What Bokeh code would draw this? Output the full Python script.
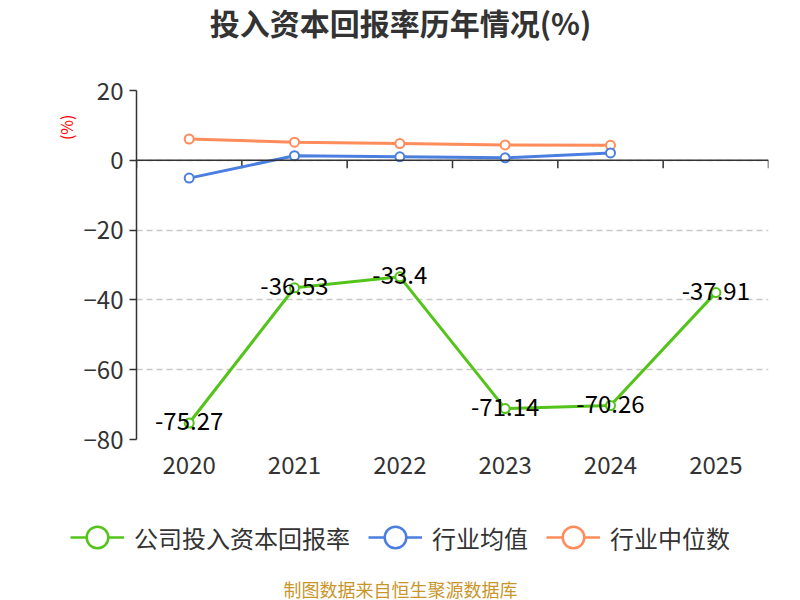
import math
from bokeh.plotting import figure
from bokeh.layouts import column, row
from bokeh.models import (Range1d, FixedTicker, Span, Legend, LegendItem, ColumnDataSource)
from bokeh.core.properties import value
from bokeh.embed import file_html
from bokeh.resources import INLINE

# ---- data ----
years = ["2020", "2021", "2022", "2023", "2024", "2025"]
company = [-75.27, -36.53, -33.4, -71.14, -70.26, -37.91]
ind_years = ["2020", "2021", "2022", "2023", "2024"]
ind_avg = [-5.1, 1.3, 1.0, 0.7, 2.1]
ind_med = [6.1, 5.2, 4.8, 4.4, 4.3]
y_ticks = [-80, -60, -40, -20, 0, 20]

title_text = "投入资本回报率历年情况(%)"
series_names = ["公司投入资本回报率", "行业均值", "行业中位数"]
footer_text = "制图数据来自恒生聚源数据库"
unit_text = "(%)"

FONT = "Noto Sans CJK SC"
GREEN = "#52c41a"
BLUE = "#4a7fe0"
ORANGE = "#ff8c5a"
TXT = "#333333"
NAN = float("nan")


def text_fig(w, h):
    # y measured upward from the strip bottom
    f = figure(width=w, height=h, output_backend="svg", toolbar_location=None,
               x_range=Range1d(0, w), y_range=Range1d(0, h),
               x_axis_location=None, y_axis_location=None, min_border=0)
    f.outline_line_color = None
    f.grid.visible = False
    return f


# ---- title ----
TH = 50
ft = text_fig(800, TH)
ft.text(x=[400], y=[TH - 21], text=[title_text], text_align="center", text_baseline="middle",
        text_font=value(FONT), text_font_size="30px", text_font_style="bold",
        text_color=TXT)

# ---- unit strip ----
UW = 80
MH = 455
fu = text_fig(UW, MH)
fu.text(x=[65], y=[MH - 48], text=[unit_text], text_align="center", text_baseline="middle",
        angle=math.pi / 2, text_font=value(FONT), text_font_size="16px", text_color="red")

# ---- main chart ----
MW = 800 - UW
xmin, xmax = -0.5, len(years) - 0.5
p = figure(width=MW, height=MH, output_backend="svg", toolbar_location=None,
           x_range=Range1d(xmin, xmax), y_range=Range1d(y_ticks[0], y_ticks[-1]),
           min_border_left=135 - UW, min_border_right=32,
           min_border_top=40, min_border_bottom=66)
p.outline_line_color = None

xi = list(range(len(years)))
p.xaxis.ticker = FixedTicker(ticks=xi)
p.xaxis.major_label_overrides = {i: y for i, y in enumerate(years)}
p.xaxis.axis_line_color = None
p.xaxis.major_tick_line_color = None
p.xaxis.minor_tick_line_color = None
p.xaxis.major_label_standoff = 10
p.xaxis.major_label_text_font_size = "24px"
p.xaxis.major_label_text_font = FONT
p.xaxis.major_label_text_color = TXT

p.yaxis.ticker = FixedTicker(ticks=y_ticks)
p.yaxis.axis_line_color = TXT
p.yaxis.axis_line_width = 1.5
p.yaxis.major_tick_line_color = TXT
p.yaxis.major_tick_line_width = 1.5
p.yaxis.major_tick_out = 7
p.yaxis.major_tick_in = 0
p.yaxis.minor_tick_line_color = None
p.yaxis.major_label_standoff = 6
p.yaxis.major_label_text_font_size = "24px"
p.yaxis.major_label_text_font = FONT
p.yaxis.major_label_text_color = TXT

p.xgrid.grid_line_color = None
p.ygrid.ticker = FixedTicker(ticks=y_ticks)
p.ygrid.grid_line_color = "#c8c8c8"
p.ygrid.grid_line_dash = "6 4"
p.ygrid.grid_line_width = 1.5

# zero line acting as category axis, with boundary ticks
p.add_layout(Span(location=0, dimension="width", line_color=TXT, line_width=1.5))
ppu_y = 349 / (y_ticks[-1] - y_ticks[0])
bounds = [i - 0.5 for i in range(len(years) + 1)]
tick_len = 8 / ppu_y
p.segment(x0=bounds, x1=bounds, y0=[0] * len(bounds), y1=[-tick_len] * len(bounds),
          line_color=TXT, line_width=1.5)

xa = [years.index(y) for y in ind_years]
p.line(xa, ind_med, line_color=ORANGE, line_width=3)
p.scatter(xa, ind_med, size=9, fill_color="white", line_color=ORANGE, line_width=2)
p.line(xa, ind_avg, line_color=BLUE, line_width=3)
p.scatter(xa, ind_avg, size=9, fill_color="white", line_color=BLUE, line_width=2)
p.line(xi, company, line_color=GREEN, line_width=3)
p.scatter(xi, company, size=9, fill_color="white", line_color=GREEN, line_width=2)

src = ColumnDataSource(dict(x=xi, y=company, t=[f"{v:g}" for v in company]))
p.text(x="x", y="y", text="t", source=src, text_align="center", text_baseline="middle",
       y_offset=-2, text_font=value(FONT), text_font_size="24px", text_color="black")

# ---- legend strip ----
LH = 65
fl = text_fig(800, LH)
colors = [GREEN, BLUE, ORANGE]
items = []
for name, c in zip(series_names, colors):
    rl = fl.line(x=[NAN], y=[NAN], line_color=c, line_width=2.5)
    rm = fl.scatter(x=[NAN], y=[NAN], size=22, fill_color="white", line_color=c,
                    line_width=2.5)
    items.append(LegendItem(label=name, renderers=[rl, rm]))
gh = 56
legend = Legend(items=items, orientation="horizontal",
                location=(70, LH - (32 + gh / 2)),
                glyph_width=54, glyph_height=gh, label_standoff=10, spacing=18,
                padding=0, margin=0, border_line_color=None, background_fill_alpha=0,
                label_text_font=FONT, label_text_font_size="24px", label_text_color=TXT)
fl.add_layout(legend, "center")

# ---- footer ----
FH = 30
ff = text_fig(800, FH)
ff.text(x=[400], y=[FH - 18], text=[footer_text], text_align="center", text_baseline="middle",
        text_font=value(FONT), text_font_size="18px", text_color="#c9962a")

layout = column(ft, row(fu, p, spacing=0), fl, ff, spacing=0)
open("out.html", "w").write(file_html(layout, INLINE))
